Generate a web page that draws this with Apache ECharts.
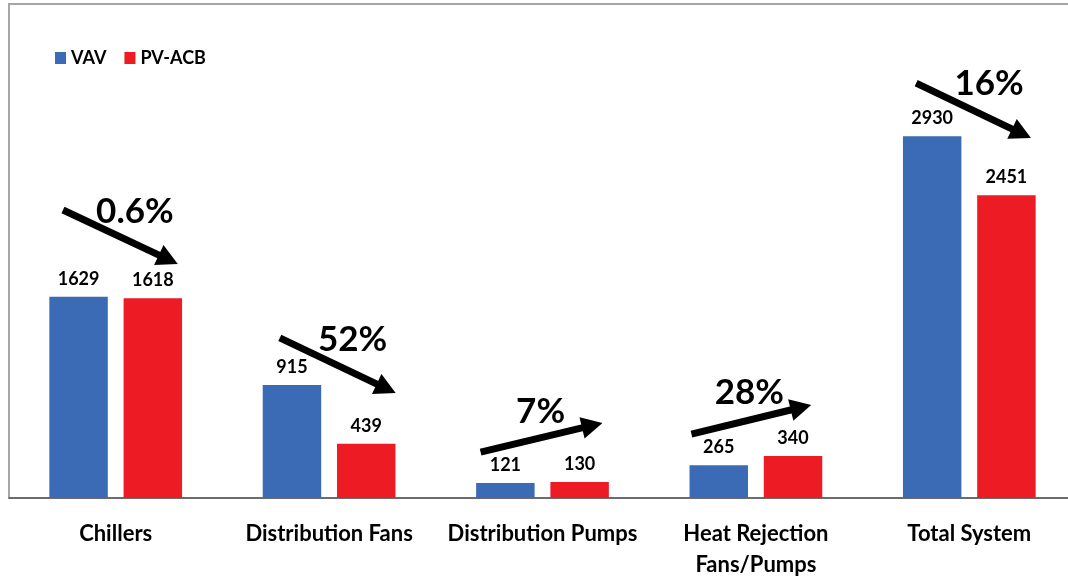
<!DOCTYPE html>
<html>
<head>
<meta charset="utf-8">
<script src="https://cdn.jsdelivr.net/npm/echarts@6/dist/echarts.min.js"></script>
<style>
  html, body { margin: 0; padding: 0; background: #fff; }
  #chart { width: 1068px; height: 582px; }
</style>
</head>
<body>
<div id="chart"></div>
<script>
// Energy use by system component
const categories = ['Chillers', 'Distribution Fans', 'Distribution Pumps', 'Heat Rejection\nFans/Pumps', 'Total System'];
const vavValues = [1629, 915, 121, 265, 2930];
const acbValues = [1618, 439, 130, 340, 2451];
const changeLabels = ['0.6%', '52%', '7%', '28%', '16%'];

// Change-arrow annotation layout: x as a fraction of the category band from its centre,
// y in value-axis units.
const arrowLayout = [
  { from: [-0.247, 2332], to: [0.291, 1895], text: [0.090, 2316] },
  { from: [-0.231, 1296], to: [0.312, 850],  text: [0.110, 1279] },
  { from: [-0.290, 372],  to: [0.281, 607],  text: [-0.009, 696] },
  { from: [-0.302, 518],  to: [0.259, 753],  text: [-0.031, 850] },
  { from: [-0.249, 3360], to: [0.289, 2915], text: [0.093, 3352] }
];

const FONT = 'Lato';
const BLUE = '#3a6bb4';
const RED = '#ed1c24';

const chart = echarts.init(document.getElementById('chart'), null, { renderer: 'canvas' });

const barLabel = {
  show: true,
  position: 'top',
  distance: 9,
  fontFamily: FONT,
  fontWeight: 'bold',
  fontSize: 18,
  color: '#000'
};

function renderArrow(params, api) {
  const i = params.dataIndex;
  const a = arrowLayout[i];
  const cx = api.coord([i, 0])[0];
  const band = api.size([1, 0])[0];
  const p1 = [cx + a.from[0] * band, api.coord([i, a.from[1]])[1]];
  const p2 = [cx + a.to[0] * band, api.coord([i, a.to[1]])[1]];
  const dx = p2[0] - p1[0], dy = p2[1] - p1[1];
  const len = Math.sqrt(dx * dx + dy * dy);
  const ux = dx / len, uy = dy / len;
  const nx = -uy, ny = ux;
  const headLen = 21, headHalf = 11;
  const bx = p2[0] - ux * headLen, by = p2[1] - uy * headLen;
  const tx = cx + a.text[0] * band;
  const ty = api.coord([i, a.text[1]])[1];
  return {
    type: 'group',
    children: [
      {
        type: 'line',
        shape: { x1: p1[0], y1: p1[1], x2: bx + ux * 2, y2: by + uy * 2 },
        style: { stroke: '#000', lineWidth: 7 }
      },
      {
        type: 'polygon',
        shape: { points: [p2, [bx + nx * headHalf, by + ny * headHalf], [bx - nx * headHalf, by - ny * headHalf]] },
        style: { fill: '#000' }
      },
      {
        type: 'text',
        x: tx,
        y: ty,
        style: {
          text: changeLabels[i],
          align: 'center',
          verticalAlign: 'middle',
          fontFamily: FONT,
          fontWeight: 'bold',
          fontSize: 35,
          fill: '#000'
        }
      }
    ]
  };
}

chart.setOption({
  animation: false,
  backgroundColor: '#fff',
  grid: {
    show: true,
    left: 9,
    width: 1067,
    top: 4,
    bottom: 84,
    outerBoundsMode: 'none',
    containLabel: false,
    borderColor: '#a6a6a6',
    borderWidth: 2,
    backgroundColor: 'transparent'
  },
  legend: {
    data: ['VAV', 'PV-ACB'],
    left: 50,
    top: 44,
    icon: 'rect',
    itemWidth: 11,
    itemHeight: 12,
    itemGap: 18,
    textStyle: { fontFamily: FONT, fontWeight: 'bold', fontSize: 18, color: '#000' }
  },
  xAxis: {
    type: 'category',
    data: categories,
    axisTick: { show: false },
    axisLine: { lineStyle: { color: '#595959', width: 1.5 } },
    axisLabel: {
      margin: 20,
      interval: 0,
      fontFamily: FONT,
      fontWeight: 'bold',
      fontSize: 22,
      lineHeight: 31,
      color: '#000'
    }
  },
  yAxis: {
    type: 'value',
    min: 0,
    max: 4000,
    show: false,
    splitLine: { show: false }
  },
  series: [
    {
      name: 'VAV',
      type: 'bar',
      data: vavValues,
      barWidth: '27.4%',
      barGap: '27%',
      itemStyle: { color: BLUE },
      label: barLabel
    },
    {
      name: 'PV-ACB',
      type: 'bar',
      data: acbValues,
      barWidth: '27.4%',
      barGap: '27%',
      itemStyle: { color: RED },
      label: barLabel
    },
    {
      name: 'change',
      type: 'custom',
      data: categories.map((c, i) => [i]),
      encode: { x: 0 },
      renderItem: renderArrow,
      z: 10,
      silent: true
    }
  ]
});
</script>
</body>
</html>
